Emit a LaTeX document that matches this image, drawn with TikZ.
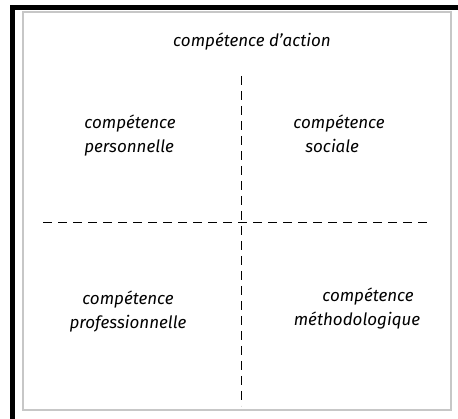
\documentclass[tikz,border=0pt]{standalone}
\usepackage{fontspec}
\setmainfont{Fira Sans}
\begin{document}
\begin{tikzpicture}[x=1pt,y=-1pt,
  hand/.style={font=\itshape\fontsize{17}{24}\selectfont, inner sep=0pt},
  axis/.style={dash pattern=on 9pt off 6pt, line width=0.8pt}]
\useasboundingbox (0,0) rectangle (458,419);
\fill [white] (0,0) rectangle (458,419);
% frame
\draw [black!22,line width=1.6pt] (23,12) rectangle (451,410);
\fill [black] (10,5) rectangle (458,10);
\fill [black] (10,5) rectangle (15,419);
\node (action) [hand] at (252,42) {compétence d'action};
\coordinate (top) at (241,76);
\coordinate (bottom) at (241,406);
\coordinate (left) at (43,222);
\coordinate (right) at (432,222);
\draw [axis] (top) -- (bottom);
\draw [axis] (left) -- (right);
\node (perso) [hand,align=left] at (130,136) {compétence\\personnelle};
\node (sociale) [hand,align=left] at (339,134) {compétence\\\hspace*{12pt}sociale};
\node (pro) [hand,align=center] at (128,312) {compétence\\professionnelle};
\node (metho) [hand,align=center] at (357,309) {\hspace*{22pt}compétence\\méthodologique};
\end{tikzpicture}
\end{document}
